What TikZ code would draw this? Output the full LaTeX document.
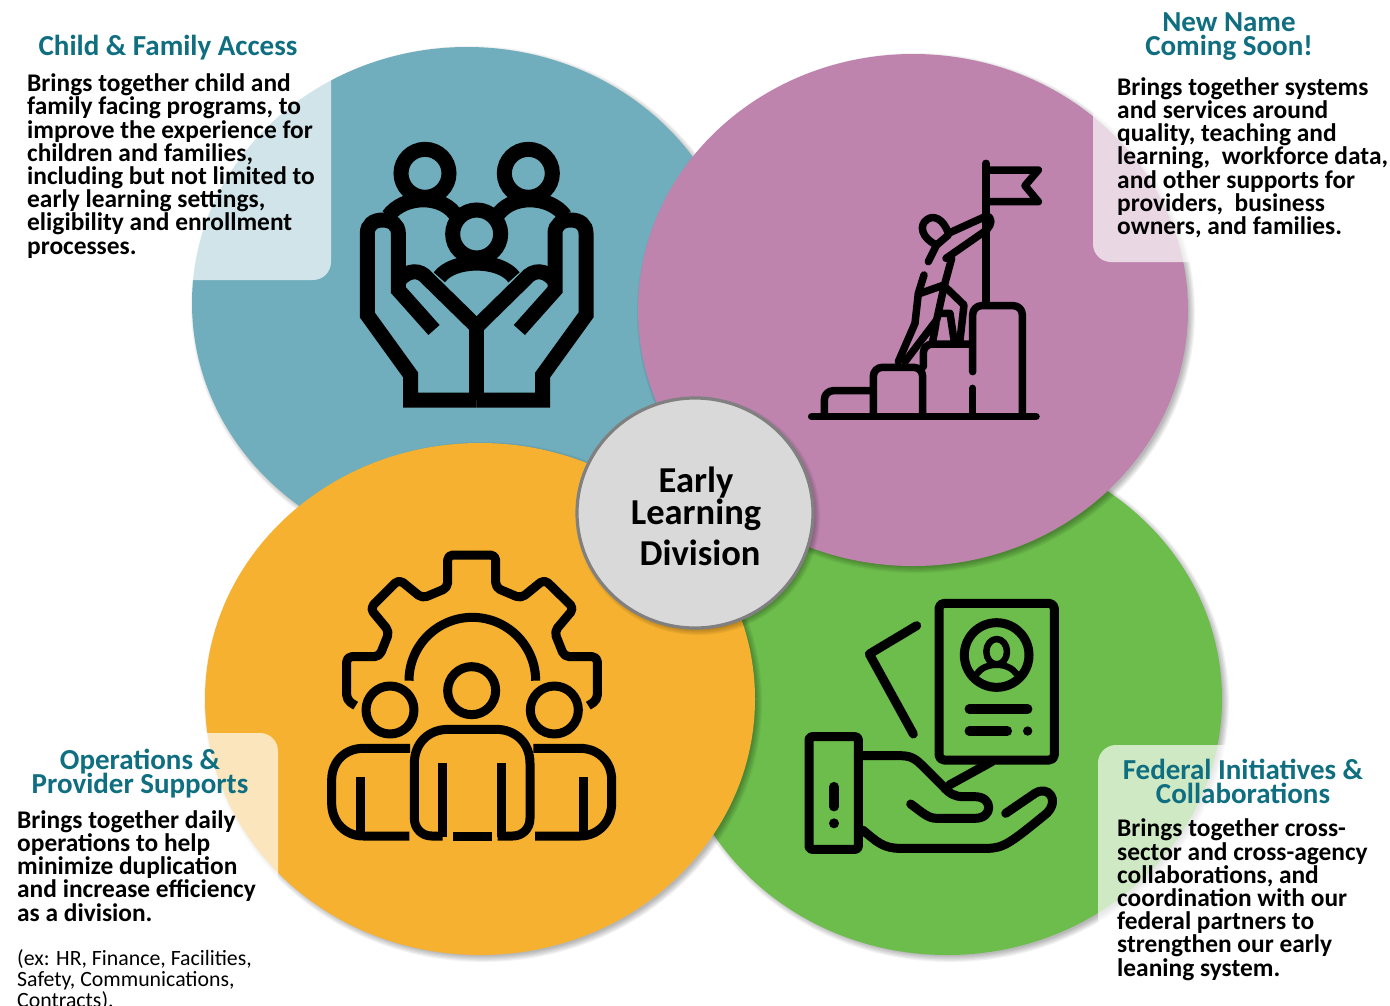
\documentclass[tikz,border=0pt]{standalone}
\usepackage{fontspec}
\setmainfont{Carlito}
\definecolor{cteal}{HTML}{70AEBD}
\definecolor{cpurple}{HTML}{BE84AE}
\definecolor{corange}{HTML}{F5B12F}
\definecolor{cgreen}{HTML}{6CBD4B}
\definecolor{ctitle}{HTML}{0F6E80}
\definecolor{ccentre}{HTML}{D9D9D9}
\definecolor{cring}{HTML}{808080}
\tikzset{
  bodytext/.style={anchor=base west,inner sep=0pt,align=left,text=black,font=\fontsize{25.4}{23.2}\selectfont\bfseries},
  titletext/.style={anchor=base,inner sep=0pt,align=center,text=ctitle,font=\fontsize{29}{24}\selectfont\bfseries},
  centretext/.style={anchor=base,inner sep=0pt,text=black,font=\fontsize{36.5}{37}\selectfont\bfseries},
  smalltext/.style={anchor=base west,inner sep=0pt,align=left,text=black,font=\fontsize{21.8}{21}\selectfont},
  panel/.style={fill=white,fill opacity=.68,draw=none,rounded corners=18pt},
  iconA/.style={draw=black,line width=15pt,line join=miter,line cap=butt},
  iconB/.style={draw=black,line width=7.5pt,line join=round,line cap=round},
  iconC/.style={draw=black,line width=9pt,line join=round,line cap=butt},
  iconD/.style={draw=black,line width=9pt,line join=round,line cap=round},
  zoomgrid/.style={x=0.33333pt,y=-0.33333pt},
}
\newcommand{\softshadow}[4]{%
  \foreach \k in {0,1,...,5}{
    \fill[black,opacity=.05] (#1+3,#2+3) circle[x radius=#3+4-1.2*\k,y radius=#4+4-1.2*\k];
  }}
\begin{document}
\begin{tikzpicture}[x=1pt,y=-1pt]
\useasboundingbox (0,0) rectangle (1390,1005);
\fill[white] (0,0) rectangle (1390,1005);
% big discs
\softshadow{467}{303}{275}{256}
\fill[cteal] (467,303) circle[x radius=275,y radius=256];
\softshadow{947}{699}{275}{256}
\fill[cgreen] (947,699) circle[x radius=275,y radius=256];
\softshadow{913}{310}{275}{256}
\fill[cpurple] (913,310) circle[x radius=275,y radius=256];
\softshadow{480}{699}{275}{256}
\fill[corange] (480,699) circle[x radius=275,y radius=256];
% translucent panels
\fill[panel] (100,0) rectangle (331,280);
\fill[panel] (1400,0) rectangle (1093,262);
\fill[panel] (100,733) rectangle (278,1000);
\fill[panel] (1098,745) rectangle (1400,1000);
% centre
\softshadow{695}{513}{118}{115}
\fill[ccentre,draw=cring,line width=3.2pt] (695,513) circle[x radius=118,y radius=115];
\node[centretext] (early) at (696,492.5) {Early};
\node[centretext] (learning) at (696,524) {Learning};
\node[centretext] (division) at (700,565.5) {Division};
% titles and bodies
\node[titletext] (t1) at (168,55) {Child \& Family Access};
\node[bodytext] (b1) at (27,254) {Brings together child and\\family facing programs, to\\improve the experience for\\children and families,\\including but not limited to\\early learning settings,\\eligibility and enrollment\\processes.};
\node[titletext] (t2) at (1229,55) {New Name\\Coming Soon!};
\node[bodytext] (b2) at (1117,234.5) {Brings together systems\\and services around\\quality, teaching and\\learning,\ \ workforce data,\\and other supports for\\providers,\ \ business\\owners, and families.};
\node[titletext] (t3) at (140,793) {Operations \&\\[-2pt]Provider Supports};
\node[bodytext] (b3) at (17,921) {Brings together daily\\operations to help\\minimize duplication\\and increase efficiency\\as a division.};
\node[smalltext] (b3x) at (17,1007) {(ex: HR, Finance, Facilities,\\Safety, Communications,\\Contracts).};
\node[titletext] (t4) at (1243,803) {Federal Initiatives \&\\Collaborations};
\node[bodytext] (b4) at (1117,976) {Brings together cross-\\sector and cross-agency\\collaborations, and\\coordination with our\\federal partners to\\strengthen our early\\leaning system.};
% family icon
\begin{scope}[shift={(340,130)},zoomgrid]
  \draw[iconA] (255,130) circle[radius=72];
  \draw[iconA] (565,130) circle[radius=72];
  \draw[iconA] (410,312) circle[radius=72];
  \draw[iconA] (410,590)--(410,810);
  \draw[iconA] (298,442) .. controls (340,385) and (480,385) .. (522,442);
  \foreach \m in {0,1}{
    \begin{scope}[shift={(820*\m,0)},xscale={1-2*\m}]
      \draw[iconA] (410,810)--(212,810)--(212,735)--(82,555)--(82,310)
        .. controls (82,285) and (100,270) .. (128,270)
        .. controls (155,270) and (175,285) .. (175,310)--(175,480)--(282,600);
      \draw[iconA,line cap=round] (410,590)--(262,445) .. controls (240,418) and (205,418) .. (178,450);
      \draw[iconA] (145,258) .. controls (190,195) and (310,190) .. (352,262);
    \end{scope}
  }
\end{scope}
% climber icon
\begin{scope}[shift={(790,150)},zoomgrid]
  \draw[iconB] (65,800)--(738,800);
  \draw[iconB,rounded corners=9pt] (103,795)--(103,722)--(240,722);
  \draw[iconB,rounded corners=9pt] (250,795)--(250,652)--(398,652)--(398,795);
  \draw[iconB,rounded corners=9pt] (400,650)--(400,582)--(545,582);
  \draw[iconB] (548,795)--(548,715);
  \draw[iconB,rounded corners=9pt] (548,665)--(548,467)--(697,467)--(697,795);
  \draw[iconB] (588,40)--(588,465);
  \draw[iconB] (588,60)--(745,60)--(705,107)--(745,155)--(588,155);
  \draw[iconB] (415,335)--(440,285)--(475,255);
  \draw[iconB] (440,285) .. controls (395,265) and (385,225) .. (412,208)
     .. controls (430,195) and (460,205) .. (475,250);
  \draw[iconB] (475,250)--(585,200) .. controls (610,195) and (605,225) .. (590,240)--(468,325);
  \draw[iconB] (485,325)--(462,410)--(440,510)--(345,635);
  \draw[iconB] (402,375)--(385,430)--(375,520)--(325,635);
  \draw[iconB] (385,432)--(462,405);
  \draw[iconB] (465,410)--(522,465)--(510,570);
  \draw[iconB] (450,490)--(480,490)--(492,570);
  \draw[iconB] (438,520)--(428,575);
\end{scope}
% gear icon
\begin{scope}[shift={(320,540)},zoomgrid]
  \draw[iconC,rounded corners=5pt] (107,497)--(80,480)--(80,350)--(178,350)--(208,275)--(150,205)--(237,118)--(307,175)--(383,143)--(383,45)--(527,45)--(527,143)--(603,175)--(673,118)--(762,205)--(703,275)--(733,350)--(832,350)--(832,480)--(805,497);
  \draw[iconC] (267,422) arc[start angle=180,end angle=360,radius=190];
  \draw[iconC] (455,452) circle[radius=72];
  \draw[iconC] (210,510) circle[radius=72];
  \draw[iconC] (703,510) circle[radius=72];
  \draw[iconC] (368,888)--(335,888) .. controls (305,888) and (283,865) .. (283,835)--(283,670)
     .. controls (283,610) and (325,568) .. (385,568)--(528,568)
     .. controls (588,568) and (630,610) .. (630,670)--(630,835)
     .. controls (630,865) and (608,888) .. (578,888)--(533,888);
  \draw[iconC] (368,670)--(368,892);
  \draw[iconC] (543,670)--(543,892);
  \draw[iconC] (400,888)--(515,888);
  \draw[iconC] (270,625)--(130,625) .. controls (75,625) and (35,665) .. (35,720)--(35,790)
     .. controls (35,845) and (75,888) .. (130,888)--(268,888);
  \draw[iconC] (122,712)--(122,888);
  \draw[iconC] (640,625)--(780,625) .. controls (835,625) and (875,665) .. (875,720)--(875,790)
     .. controls (875,845) and (835,888) .. (780,888)--(645,888);
  \draw[iconC] (790,712)--(790,888);
\end{scope}
% hand icon
\begin{scope}[shift={(790,590)},zoomgrid]
  \draw[iconD,rounded corners=5pt] (447,40) rectangle (793,510);
  \draw[iconD] (620,195) circle[radius=97];
  \draw[iconD,line width=6.5pt] (620,185) circle[x radius=31,y radius=38];
  \draw[iconD,line width=6.5pt] (560,252) .. controls (585,215) and (655,215) .. (680,252);
  \draw[iconD,line width=9.5pt] (538,357)--(713,357);
  \draw[iconD,line width=9.5pt] (538,423)--(652,423);
  \fill[black] (713,423) circle[radius=14];
  \draw[iconD] (380,107)--(238,192)--(370,432);
  \draw[iconD] (478,585)--(605,515);
  \draw[iconD,rounded corners=3pt] (57,440) rectangle (205,778);
  \draw[iconD,line width=9.5pt] (132,590)--(132,650);
  \fill[black] (132,700) circle[radius=15];
  \draw[iconD] (205,497)--(330,497) .. controls (360,497) and (375,505) .. (395,525)--(460,590)
     .. controls (480,612) and (495,620) .. (520,620)--(555,620)
     .. controls (610,620) and (610,685) .. (555,685)--(440,685)
     .. controls (415,685) and (400,670) .. (362,642);
  \draw[iconD] (218,720) .. controls (260,755) and (280,775) .. (330,775)--(590,775)
     .. controls (640,775) and (660,760) .. (770,670)
     .. controls (810,630) and (775,585) .. (735,610)--(647,670);
\end{scope}
\end{tikzpicture}
\end{document}
